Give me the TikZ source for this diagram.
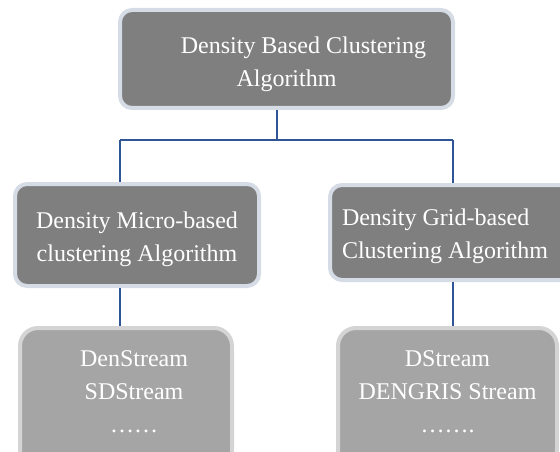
\documentclass[tikz,border=0pt]{standalone}
\usepackage{fontspec}
\setmainfont{Liberation Serif}
\definecolor{darkbox}{HTML}{7F7F7F}
\definecolor{lightbox}{HTML}{A5A5A5}
\definecolor{darkrim}{HTML}{D6DCE5}
\definecolor{lightrim}{HTML}{D4D4D4}
\definecolor{wire}{HTML}{2F5597}
\begin{document}
\begin{tikzpicture}[x=1pt, y=-1pt, font=\fontsize{24}{33}\selectfont,
					algo/.style = {draw=darkrim, fill=darkbox, line width=4pt, rounded corners=12pt},
					member/.style = {draw=lightrim, fill=lightbox, line width=4pt, rounded corners=18pt},
					words/.style = {text=white, align=center},
					wired/.style = {draw=wire, line width=1.5pt}]
	\useasboundingbox (0,0) rectangle (560,452);
	
	\node[algo, minimum width=333pt, minimum height=98pt,
		label={[words, yshift=-5pt]center:{\hspace*{34pt}Density Based Clustering\\Algorithm}}] (top) at (286.5,59) {};
	\node[algo, minimum width=244pt, minimum height=102pt,
		label={[words, yshift=-4pt]center:{Density Micro-based\\clustering Algorithm}}] (micro) at (137,235) {};
	\node[algo, minimum width=250pt, minimum height=95pt,
		label={[words, align=left, xshift=-10pt, yshift=-4pt]center:{Density Grid-based\\Clustering Algorithm}}] (grid) at (455,232.5) {};
	\node[member, minimum width=212pt, minimum height=140pt,
		label={[words, xshift=8pt, yshift=6pt]center:{DenStream\\SDStream\\……}}] (mlist) at (126,398) {};
	\node[member, minimum width=219pt, minimum height=140pt,
		label={[words, yshift=6pt]center:{DStream\\DENGRIS Stream\\…….}}] (glist) at (447.5,398) {};
	
	\coordinate (split) at (277,140);
	\coordinate (lj) at (120,140);
	\coordinate (rj) at (453,140);
	
	\draw[wired] (split |- top.south) to (split);
	\draw[wired] (lj) to (rj);
	\draw[wired] (lj) to (lj |- micro.north);
	\draw[wired] (rj) to (rj |- grid.north);
	\draw[wired] (lj |- micro.south) to (lj |- mlist.north);
	\draw[wired] (rj |- grid.south) to (rj |- glist.north);
\end{tikzpicture}
\end{document}
